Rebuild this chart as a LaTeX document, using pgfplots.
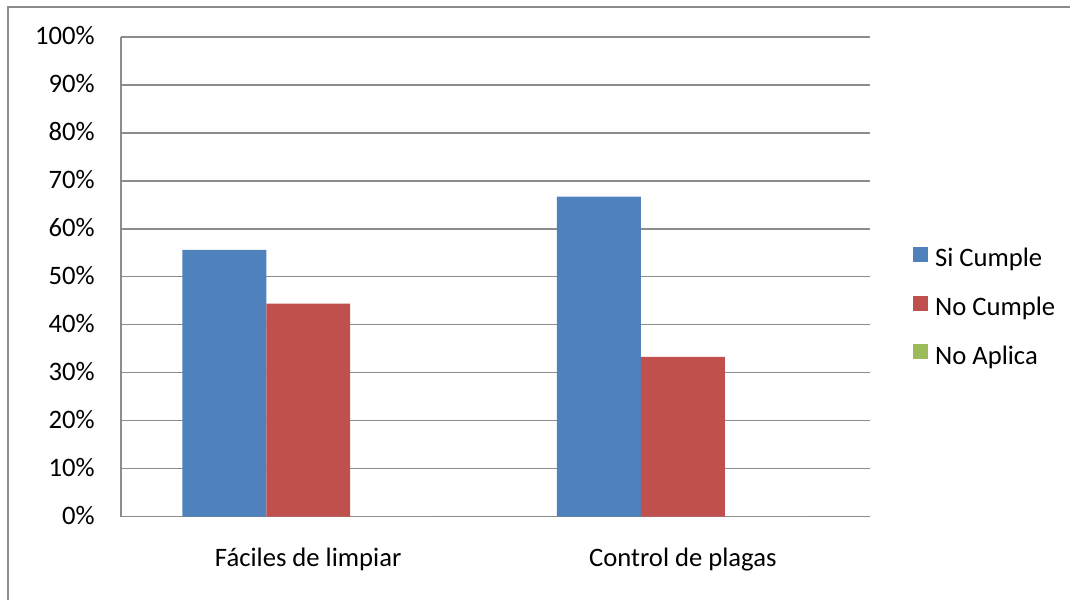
\documentclass[border=0pt]{standalone}
\usepackage{pgfplots}
\pgfplotsset{compat=1.18}
\usepackage{fontspec}
\setmainfont{Carlito}
\definecolor{sblue}{HTML}{4F81BD}
\definecolor{sred}{HTML}{C0504D}
\definecolor{sgreen}{HTML}{9BBB59}
\definecolor{gridgray}{HTML}{8C8C8C}
\begin{document}
\fontsize{20}{24}\selectfont
\begin{tikzpicture}
\begin{axis}[
  at={(0,0)}, anchor=south west,
  scale only axis, width=562.5pt, height=360pt,
  ybar=0pt, bar width=63pt,
  xmin=-0.5, xmax=1.5,
  ymin=0, ymax=100,
  xtick={0,1}, xticklabels={Fáciles de limpiar, Control de plagas},
  ytick={0,10,...,100},
  yticklabel={\pgfmathprintnumber{\tick}\%},
  /pgf/number format/assume math mode=true,
  major tick length=0pt,
  ymajorgrids, grid style={gridgray, line width=1.1pt},
  axis x line*=bottom, axis y line*=left,
  axis line style={gridgray, line width=1.1pt, -},
  tick label style={font=\fontsize{20}{24}\selectfont},
  yticklabel style={inner sep=0pt, anchor=base east, xshift=-19.5pt, yshift=-6pt},
  xticklabel style={inner sep=0pt, anchor=base, yshift=-37.5pt},
  legend style={draw=none, fill=none, at={(1.052,0.569)}, anchor=north west,
    font=\fontsize{20}{24}\selectfont, row sep=17.5pt,
    nodes={inner sep=0pt, text height=13pt, text depth=4pt},
    /tikz/every odd column/.append style={column sep=5pt}},
  legend cell align=left,
  legend image code/.code={\fill[#1] (0pt,-0.5pt) rectangle (11.25pt,10.75pt);},
]
\addplot[fill=sblue, draw=none] coordinates {(0,55.6) (1,66.7)};
\addplot[fill=sred, draw=none] coordinates {(0,44.4) (1,33.3)};
\addplot[fill=sgreen, draw=none] coordinates {(0,0) (1,0)};
\legend{Si Cumple, No Cumple, No Aplica}
\end{axis}
\draw[gridgray, line width=1.5pt] (-84.75pt,-63pt) -- (-84.75pt,382.5pt) -- (712.5pt,382.5pt);
\path[use as bounding box] (-90.75pt,-63pt) rectangle (712.5pt,387.75pt);
\end{tikzpicture}
\end{document}
